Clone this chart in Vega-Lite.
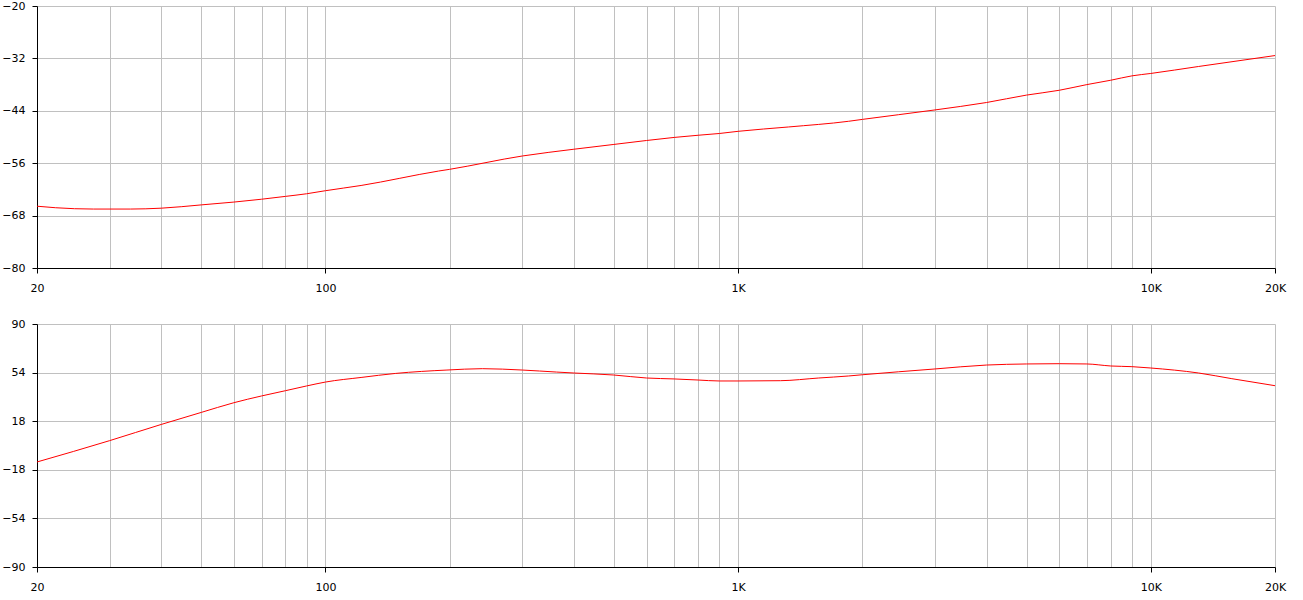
{
  "$schema": "https://vega.github.io/schema/vega-lite/v6.json",
  "background": "white",
  "padding": {"left": 1, "top": 0, "right": 5, "bottom": 5},
  "bounds": "flush",
  "spacing": 56,
  "datasets": {
    "mag": [
      {"f": 20, "v": -65.85}, {"f": 22.2, "v": -66.2}, {"f": 27.4, "v": -66.5}, {"f": 33.7, "v": -66.5},
      {"f": 40, "v": -66.3}, {"f": 50, "v": -65.55}, {"f": 60, "v": -64.9}, {"f": 70, "v": -64.25},
      {"f": 80, "v": -63.6}, {"f": 90, "v": -63.0}, {"f": 100, "v": -62.3}, {"f": 122, "v": -61.1},
      {"f": 188, "v": -57.8}, {"f": 200, "v": -57.4}, {"f": 300, "v": -54.35}, {"f": 400, "v": -52.8},
      {"f": 500, "v": -51.7}, {"f": 600, "v": -50.8}, {"f": 700, "v": -50.1}, {"f": 800, "v": -49.6},
      {"f": 900, "v": -49.2}, {"f": 1000, "v": -48.7}, {"f": 1326, "v": -47.7}, {"f": 1853, "v": -46.4},
      {"f": 2000, "v": -45.97}, {"f": 3000, "v": -43.8}, {"f": 4000, "v": -42.1}, {"f": 5000, "v": -40.4},
      {"f": 6000, "v": -39.3}, {"f": 7000, "v": -38.0}, {"f": 8000, "v": -37.0}, {"f": 9000, "v": -36.0},
      {"f": 10000, "v": -35.45}, {"f": 13060, "v": -33.85}, {"f": 20000, "v": -31.35}
    ],
    "phase": [
      {"f": 20, "v": -12.2}, {"f": 30, "v": 3.6}, {"f": 40, "v": 15.6}, {"f": 50, "v": 24.5},
      {"f": 60, "v": 31.7}, {"f": 70, "v": 36.7}, {"f": 80, "v": 40.6}, {"f": 90, "v": 44.1},
      {"f": 100, "v": 47.0}, {"f": 122, "v": 50.4}, {"f": 148, "v": 53.4}, {"f": 197, "v": 55.9},
      {"f": 240, "v": 56.9}, {"f": 300, "v": 55.9}, {"f": 363, "v": 54.4}, {"f": 400, "v": 53.7},
      {"f": 500, "v": 52.2}, {"f": 600, "v": 50.0}, {"f": 700, "v": 49.3}, {"f": 800, "v": 48.5},
      {"f": 900, "v": 47.8}, {"f": 1000, "v": 47.8}, {"f": 1266, "v": 48.0}, {"f": 1568, "v": 50.0},
      {"f": 1853, "v": 51.5}, {"f": 2000, "v": 52.4}, {"f": 3000, "v": 56.7}, {"f": 4000, "v": 59.6},
      {"f": 5000, "v": 60.4}, {"f": 6000, "v": 60.6}, {"f": 7000, "v": 60.4}, {"f": 8000, "v": 58.9},
      {"f": 9000, "v": 58.4}, {"f": 10000, "v": 57.4}, {"f": 13060, "v": 53.7}, {"f": 15720, "v": 49.5},
      {"f": 20000, "v": 44.3}
    ]
  },
  "vconcat": [
    {
      "width": 1238,
      "height": 262,
      "data": {"name": "mag"},
      "mark": {"type": "line", "color": "#ff0000", "strokeWidth": 1, "interpolate": "monotone"},
      "encoding": {
        "x": {
          "field": "f", "type": "quantitative", "title": null,
          "scale": {"type": "log", "domain": [20, 20000], "nice": false},
          "axis": {
            "values": [20, 30, 40, 50, 60, 70, 80, 90, 100, 200, 300, 400, 500, 600, 700, 800, 900, 1000, 2000, 3000, 4000, 5000, 6000, 7000, 8000, 9000, 10000, 20000],
            "labelExpr": "datum.value == 20 ? '20' : datum.value == 100 ? '100' : datum.value == 1000 ? '1K' : datum.value == 10000 ? '10K' : datum.value == 20000 ? '20K' : ''",
            "tickOpacity": {"condition": {"test": "indexof([20, 100, 1000, 10000, 20000], datum.value) >= 0", "value": 1}, "value": 0},
            "labelPadding": 9
          }
        },
        "y": {
          "field": "v", "type": "quantitative", "title": null,
          "scale": {"domain": [-80, -20], "nice": false, "zero": false},
          "axis": {"values": [-80, -68, -56, -44, -32, -20], "labelPadding": 7}
        }
      }
    },
    {
      "width": 1238,
      "height": 243,
      "data": {"name": "phase"},
      "mark": {"type": "line", "color": "#ff0000", "strokeWidth": 1, "interpolate": "monotone"},
      "encoding": {
        "x": {
          "field": "f", "type": "quantitative", "title": null,
          "scale": {"type": "log", "domain": [20, 20000], "nice": false},
          "axis": {
            "values": [20, 30, 40, 50, 60, 70, 80, 90, 100, 200, 300, 400, 500, 600, 700, 800, 900, 1000, 2000, 3000, 4000, 5000, 6000, 7000, 8000, 9000, 10000, 20000],
            "labelExpr": "datum.value == 20 ? '20' : datum.value == 100 ? '100' : datum.value == 1000 ? '1K' : datum.value == 10000 ? '10K' : datum.value == 20000 ? '20K' : ''",
            "tickOpacity": {"condition": {"test": "indexof([20, 100, 1000, 10000, 20000], datum.value) >= 0", "value": 1}, "value": 0},
            "labelPadding": 9
          }
        },
        "y": {
          "field": "v", "type": "quantitative", "title": null,
          "scale": {"domain": [-90, 90], "nice": false, "zero": false},
          "axis": {"values": [-90, -54, -18, 18, 54, 90], "labelPadding": 7}
        }
      }
    }
  ],
  "config": {
    "view": {"stroke": null},
    "axis": {
      "domainColor": "#000000",
      "tickColor": "#000000",
      "gridColor": "#c0c0c0",
      "gridOpacity": 1,
      "grid": true,
      "labelFont": "DejaVu Sans",
      "labelFontSize": 11,
      "labelColor": "#000000",
      "tickSize": 5,
      "labelFlush": false,
      "labelOverlap": false
    }
  }
}
